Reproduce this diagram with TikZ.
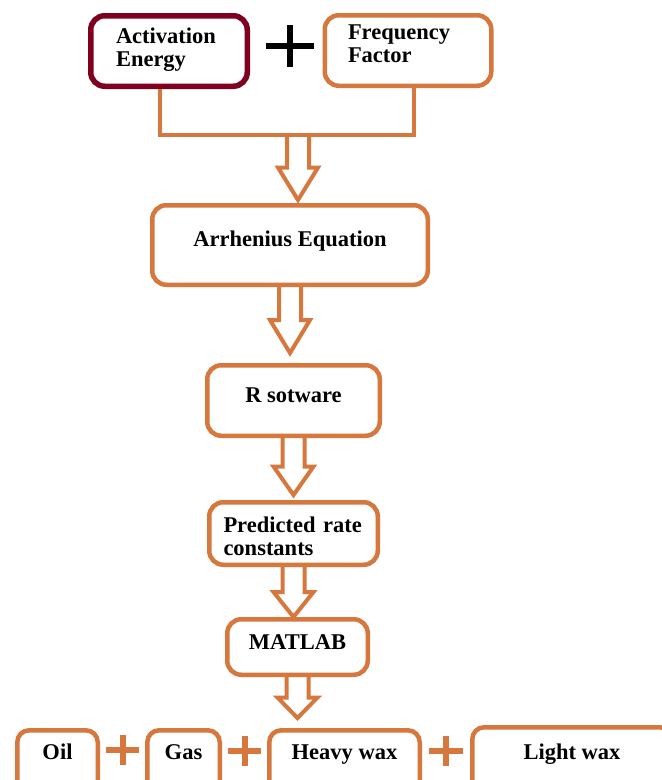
\documentclass[tikz,border=0pt]{standalone}
\usepackage{fontspec}
\setmainfont{Liberation Serif}
\usetikzlibrary{positioning, calc}

\definecolor{boxorange}{RGB}{214,120,62}
\definecolor{boxmaroon}{RGB}{128,0,32}

% hollow block arrow from a point down to a node anchor (last arg: gap before it)
\newcommand{\blockarrow}[3]{%
  \draw[hollowarrow] let \p1=(#1), \p2=($(#1 |- #2)+(0,-#3)$), \n1={0.5*(\y1-\y2)} in
    (\x1-11pt,\y1) -- (\x1-11pt,\y2+\n1) -- (\x1-20pt,\y2+\n1) -- (\x1,\y2)
    -- (\x1+20pt,\y2+\n1) -- (\x1+11pt,\y2+\n1) -- (\x1+11pt,\y1);}

\begin{document}
\begin{tikzpicture}[
    x=1pt, y=-1pt,
    box/.style={draw=boxorange, line width=4.5pt, rounded corners=14pt, fill=white, align=center, inner sep=0pt, font=\fontsize{22.5}{23}\selectfont\bfseries, text height=16pt},
    outbox/.style={box, rounded corners=12pt, minimum height=65.5pt, text depth=24pt},
    plusbox/.style={minimum width=32pt, minimum height=30pt, inner sep=0pt},
    hollowarrow/.style={draw=boxorange, line width=4pt, line join=miter},
    link/.style={draw=boxorange, line width=4pt}
]
\path[use as bounding box, fill=white] (0,0) rectangle (662,780);

% Inputs
\node[box, draw=boxmaroon, line width=5.5pt, minimum width=156.5pt, minimum height=70.5pt, align=left, text width=106pt, text depth=32pt] (actE) at (169,51) {Activation\\Energy};
\node[box, minimum width=166.5pt, minimum height=70.5pt, align=left, text width=120pt, text depth=39pt] (freq) at (408,50.5) {Frequency\\Factor};
\node[minimum width=47pt, minimum height=42pt, inner sep=0pt] (plusA) at (290,46) {};
\coordinate (join) at (298,135);

% Pipeline
\node[box, minimum width=275.5pt, minimum height=79.5pt, text depth=14pt] (arrh) at (290,245) {Arrhenius Equation};
\node[box, minimum width=172.5pt, minimum height=70.5pt, text depth=13pt, below=76pt of arrh, xshift=3.5pt] (rsoft) {R sotware};
\node[box, minimum width=168.5pt, minimum height=62.5pt, align=left, text width=140pt, text depth=19pt, below=62pt of rsoft] (pred) {Predicted rate\\constants};
\node[box, minimum width=140.5pt, minimum height=55.5pt, text depth=12pt, below=50pt of pred, xshift=4pt] (matlab) {MATLAB};

% Products
\node[outbox, minimum width=80.5pt] (oil) at (57.5,763) {Oil};
\node[outbox, minimum width=72.5pt, right=45pt of oil] (gas) {Gas};
\node[outbox, minimum width=150.5pt, right=45pt of gas] (heavy) {Heavy wax};
\node[outbox, minimum width=199.5pt, minimum height=71.5pt, right=48pt of heavy] (light) {Light wax};
\node[plusbox] (plusB) at ($(oil.east)!0.5!(gas.west)+(0,-13)$) {};
\node[plusbox] (plusC) at ($(gas.east)!0.5!(heavy.west)+(0,-12)$) {};
\node[plusbox, minimum width=34pt] (plusD) at ($(heavy.east)!0.5!(light.west)+(0,-12)$) {};

% Connections
\draw[line width=6pt] (plusA.north) -- (plusA.south) (plusA.west) -- (plusA.east);
\draw[link] ([xshift=-9pt]actE.south) |- (join) -| ([xshift=5.5pt]freq.south);
\blockarrow{join}{arrh.north}{3}
\blockarrow{arrh.south}{rsoft.north}{10}
\blockarrow{rsoft.south}{pred.north}{5}
\blockarrow{pred.south}{matlab.north}{0}
\blockarrow{matlab.south}{heavy.north}{10}
\foreach \pl in {plusB,plusC,plusD}
  \draw[link, line width=6pt] (\pl.north) -- (\pl.south) (\pl.west) -- (\pl.east);

\end{tikzpicture}
\end{document}
